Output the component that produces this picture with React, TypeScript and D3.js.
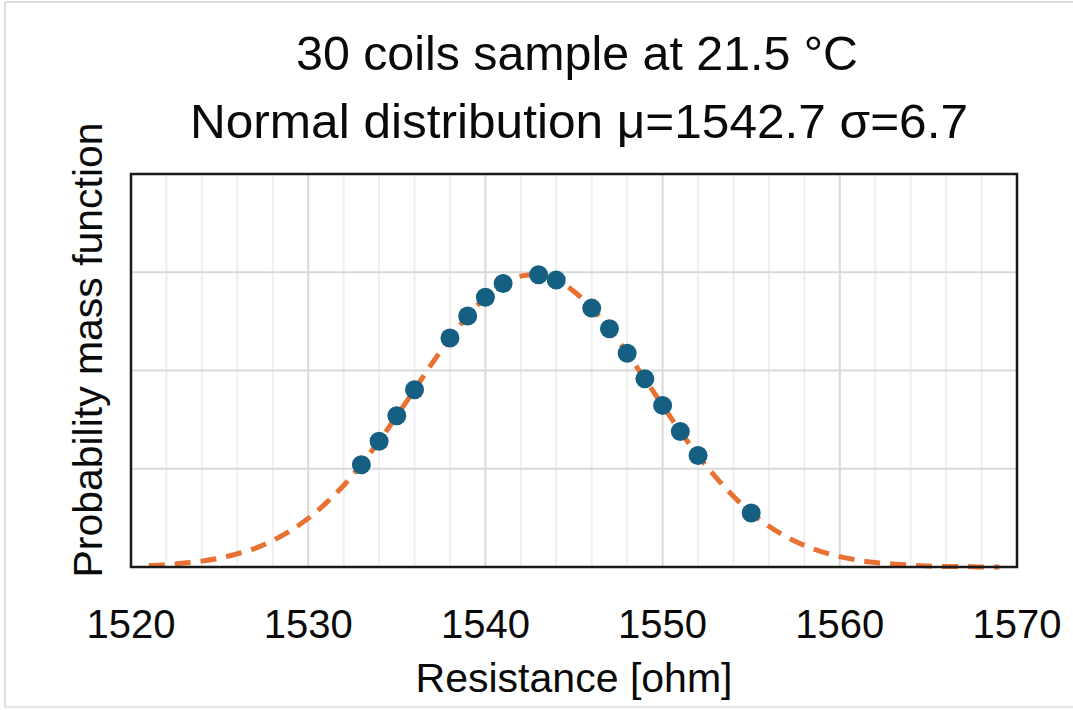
import React from "react";
import * as d3 from "d3";

// ---- data ----
const titleLines = ["30 coils sample at 21.5 °C", "Normal distribution μ=1542.7 σ=6.7"];
const xLabel = "Resistance [ohm]";
const yLabel = "Probability mass function";
const xTicks = [1520, 1530, 1540, 1550, 1560, 1570];
const yGrid = [0.02, 0.04, 0.06];

// sample points (resistance, pmf)
const sampleX = [1533, 1534, 1535, 1536, 1538, 1539, 1540, 1541, 1543, 1544, 1546, 1547, 1548, 1549, 1550, 1551, 1552, 1555];
const sampleY = [0.0208, 0.0256, 0.0308, 0.0361, 0.0466, 0.0511, 0.0549, 0.0577, 0.0595, 0.0584, 0.0527, 0.0485, 0.0435, 0.0383, 0.0329, 0.0276, 0.0227, 0.0110];

// dashed normal curve, read at each integer resistance
const curveX = [1521, 1522, 1523, 1524, 1525, 1526, 1527, 1528, 1529, 1530, 1531, 1532, 1533, 1534, 1535, 1536, 1537, 1538, 1539, 1540, 1541, 1542, 1543, 1544, 1545, 1546, 1547, 1548, 1549, 1550, 1551, 1552, 1553, 1554, 1555, 1556, 1557, 1558, 1559, 1560, 1561, 1562, 1563, 1564, 1565, 1566, 1567, 1568, 1569];
const curveY = [0.0003, 0.0005, 0.0008, 0.0012, 0.0018, 0.0027, 0.0038, 0.0054, 0.0074, 0.0099, 0.0130, 0.0166, 0.0209, 0.0256, 0.0308, 0.0361, 0.0415, 0.0466, 0.0511, 0.0549, 0.0577, 0.0592, 0.0595, 0.0584, 0.0561, 0.0527, 0.0485, 0.0435, 0.0383, 0.0329, 0.0276, 0.0227, 0.0183, 0.0144, 0.0110, 0.0083, 0.0061, 0.0044, 0.0031, 0.0021, 0.0014, 0.0009, 0.0006, 0.0004, 0.0002, 0.0001, 0.0001, 0.0000, 0.0000];

const W = 1073;
const H = 710;
const M = { left: 131, right: 1017, top: 174, bottom: 567 };
const FONT = "'Liberation Sans', Arial, sans-serif";

export default function App() {
  const x = d3.scaleLinear().domain([1520, 1570]).range([M.left, M.right]);
  const y = d3.scaleLinear().domain([0, 0.08]).range([M.bottom, M.top]);

  const minorX = d3.range(1522, 1570, 2).filter((v) => v % 10 !== 0);
  const majorX = xTicks.filter((v) => v > 1520 && v < 1570);

  const curve = curveX.map((v, i) => [v, curveY[i]] as [number, number]);
  const line = d3
    .line<[number, number]>()
    .x((d) => x(d[0]))
    .y((d) => y(d[1]))
    .curve(d3.curveCatmullRom);

  return (
    <svg
      width={W}
      height={H}
      style={{ position: "absolute", left: 0, top: 0, background: "#fff" }}
      fontFamily={FONT}
    >
      <rect x={0} y={0} width={W} height={H} fill="#fff" />
      {/* faint screenshot frame */}
      <line x1={5} y1={2} x2={W} y2={2} stroke="#dcdcdc" strokeWidth={2} />
      <line x1={5} y1={2} x2={5} y2={707} stroke="#dcdcdc" strokeWidth={2} />
      <line x1={5} y1={707} x2={W} y2={707} stroke="#e6e6e6" strokeWidth={2} />

      {/* titles */}
      <text x={577} y={70} fontSize={48} textAnchor="middle" fill="#0a0a0a" textLength={562} lengthAdjust="spacingAndGlyphs">
        {titleLines[0]}
      </text>
      <text x={579} y={138} fontSize={48} textAnchor="middle" fill="#0a0a0a" textLength={778} lengthAdjust="spacingAndGlyphs">
        {titleLines[1]}
      </text>

      {/* grid */}
      {minorX.map((v) => (
        <line key={"mx" + v} x1={x(v)} x2={x(v)} y1={M.top} y2={M.bottom} stroke="#efefef" strokeWidth={2} />
      ))}
      {majorX.map((v) => (
        <line key={"Mx" + v} x1={x(v)} x2={x(v)} y1={M.top} y2={M.bottom} stroke="#d9d9d9" strokeWidth={2} />
      ))}
      {yGrid.map((v) => (
        <line key={"gy" + v} x1={M.left} x2={M.right} y1={y(v)} y2={y(v)} stroke="#d9d9d9" strokeWidth={2} />
      ))}

      {/* curve */}
      <path d={line(curve) || ""} fill="none" stroke="#E97132" strokeWidth={5} strokeDasharray="16 10" />

      {/* points */}
      {sampleX.map((v, i) => (
        <circle key={"p" + v} cx={x(v)} cy={y(sampleY[i])} r={9.5} fill="#156082" />
      ))}

      {/* plot frame */}
      <rect
        x={M.left}
        y={M.top}
        width={M.right - M.left}
        height={M.bottom - M.top}
        fill="none"
        stroke="#1a1a1a"
        strokeWidth={2.5}
      />

      {/* x tick labels */}
      {xTicks.map((v) => (
        <text key={"t" + v} x={x(v)} y={638} fontSize={40} textAnchor="middle" fill="#0a0a0a">
          {v}
        </text>
      ))}

      {/* axis titles */}
      <text x={574} y={692} fontSize={41} textAnchor="middle" fill="#0a0a0a" textLength={317} lengthAdjust="spacingAndGlyphs">
        {xLabel}
      </text>
      <text
        transform={`translate(102,350) rotate(-90)`}
        fontSize={41}
        textAnchor="middle"
        fill="#0a0a0a"
        textLength={455}
        lengthAdjust="spacingAndGlyphs"
      >
        {yLabel}
      </text>
    </svg>
  );
}
